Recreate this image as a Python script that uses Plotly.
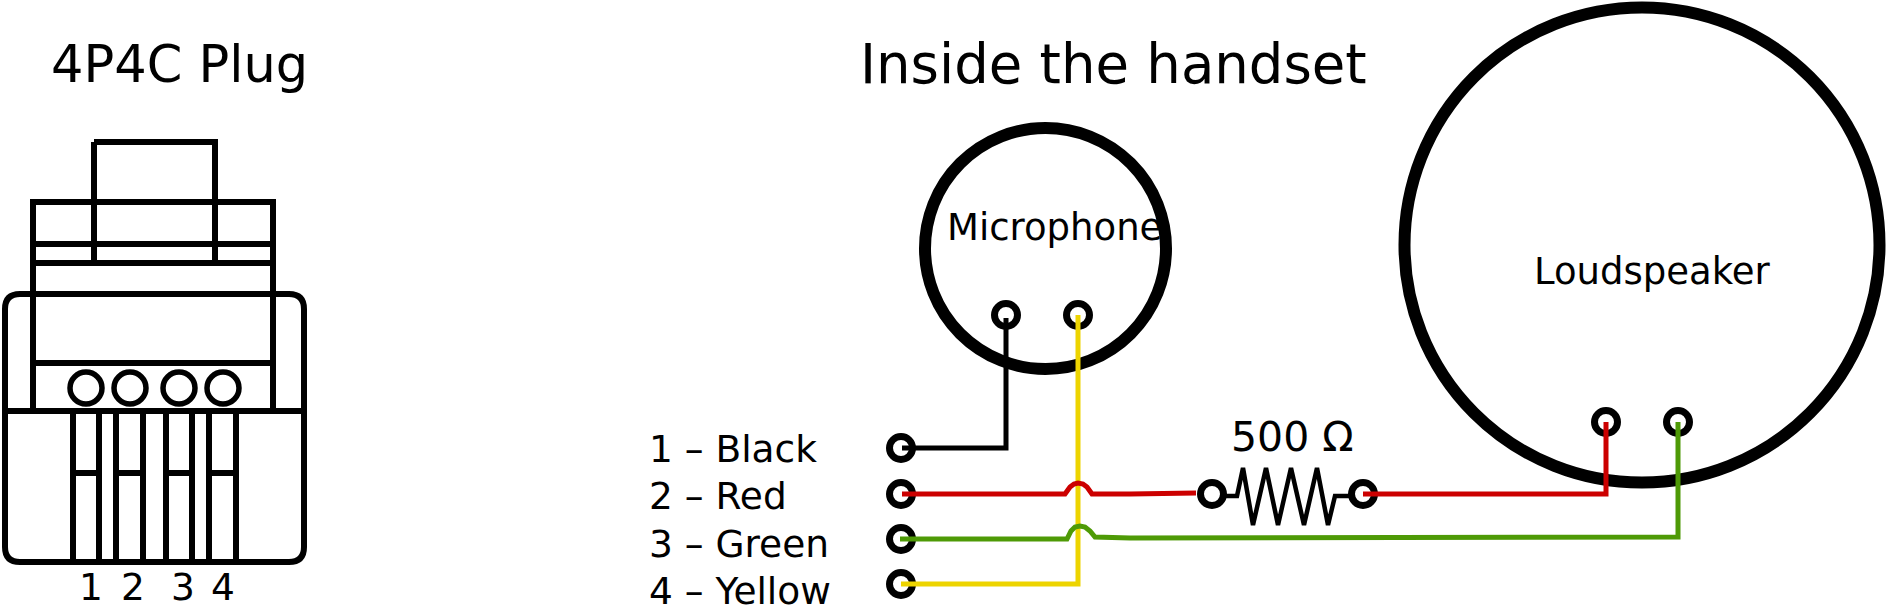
import plotly.graph_objects as go

BLACK = "#000000"
RED = "#cc0000"
YELLOW = "#edd400"
GREEN = "#4e9a06"

# testi
titles = ["4P4C Plug", "Inside the handset"]
titles_x = [179, 1113]
titles_y = [64, 64]
pin_names = ["1 – Black", "2 – Red", "3 – Green", "4 – Yellow"]
pin_names_x = [647, 647, 647, 647]
pin_names_y = [449, 496, 544, 591]
pin_digits = ["1", "2", "3", "4"]
pin_digits_x = [91, 133, 183, 223]
pin_digits_y = [587, 587, 587, 587]
parts = ["Microphone", "Loudspeaker", "500 Ω"]
parts_x = [1054, 1652, 1292]
parts_y = [227, 271, 437]

# spina
tab_x = [94, 215, 215, 94, 94]
tab_y = [142, 142, 263, 263, 142]
body_x = [33, 33, 273, 273]
body_y = [411, 202, 202, 411]
body_lines_y = [244, 263, 363]
body_lines_x = [33, 273]
shell_left = 5
shell_right = 304
shell_top = 294
shell_bottom = 562
shell_mid = 411
shell_corner = 15
holes_x = [86, 130, 179, 223]
holes_y = [388, 388, 388, 388]
contact_left = [73, 116, 166, 209]
contact_right = [99, 143, 192, 236]
contact_top = 411
contact_bottom = 562
contact_bar = 473

# cerchi grandi
mic_x, mic_y = [1045.5], [248.5]
speaker_x, speaker_y = [1642], [245]

# terminali
plug_term_x = [901, 901, 901, 901]
plug_term_y = [448, 494, 539, 584]
other_term_x = [1006, 1078, 1212, 1363, 1606, 1678]
other_term_y = [315, 315, 494, 494, 422, 422]

# fili
black_x = [902, 1006, 1006]
black_y = [448, 448, 318]
yellow_x = [901, 1078, 1078]
yellow_y = [584, 584, 315]
red_a_x = [902, 1065, 1070, 1074, 1078, 1083, 1087, 1092, 1130, 1196]
red_a_y = [494, 494, 487, 484, 483, 484, 487, 494, 494, 493]
red_b_x = [1363, 1606, 1606]
red_b_y = [494, 494, 422]
green_x = [900, 1067, 1071, 1075, 1080, 1085, 1090, 1095, 1130, 1678, 1678]
green_y = [539, 539, 531, 527, 526, 527, 531, 537, 538, 537, 422]

# resistenza
res_x = [1226, 1237, 1243, 1253, 1266, 1278, 1291, 1304, 1317, 1328, 1335, 1349]
res_y = [496, 496, 468, 525, 468, 525, 468, 525, 468, 525, 496, 496]

fig = go.Figure()


def add_line(x, y, color=BLACK, width=6):
    fig.add_trace(go.Scatter(
        x=x, y=y, mode="lines",
        line=dict(color=color, width=width, simplify=False),
        hoverinfo="skip"
    ))


def add_rings(x, y, size, width):
    fig.add_trace(go.Scatter(
        x=x, y=y, mode="markers",
        marker=dict(symbol="circle-open", size=size, color=BLACK, line=dict(color=BLACK, width=width)),
        hoverinfo="skip"
    ))


# spina
add_line(body_x, body_y)
for y in body_lines_y:
    add_line(body_lines_x, [y, y])
add_line(tab_x, tab_y)
add_line([shell_left, shell_right], [shell_mid, shell_mid])
for left, right in zip(contact_left, contact_right):
    add_line([left, left], [contact_top, contact_bottom])
    add_line([right, right], [contact_top, contact_bottom])
    add_line([left, right], [contact_bar, contact_bar])
add_rings(holes_x, holes_y, 32, 5.5)

# cerchi
add_rings(mic_x, mic_y, 241, 12)
add_rings(speaker_x, speaker_y, 475, 12)
add_rings(plug_term_x, plug_term_y, 23, 7)
add_rings(other_term_x, other_term_y, 23, 7)

add_line(res_x, res_y, width=4.5)
add_line(black_x, black_y, width=5)
add_line(yellow_x, yellow_y, YELLOW, 5)
add_line(red_a_x, red_a_y, RED, 5)
add_line(red_b_x, red_b_y, RED, 5)
add_line(green_x, green_y, GREEN, 5)

# guscio arrotondato
c = shell_corner
shell_path = (
    f"M {shell_left + c} {shell_top} L {shell_right - c} {shell_top} "
    f"Q {shell_right} {shell_top} {shell_right} {shell_top + c} "
    f"L {shell_right} {shell_bottom - c} Q {shell_right} {shell_bottom} {shell_right - c} {shell_bottom} "
    f"L {shell_left + c} {shell_bottom} Q {shell_left} {shell_bottom} {shell_left} {shell_bottom - c} "
    f"L {shell_left} {shell_top + c} Q {shell_left} {shell_top} {shell_left + c} {shell_top} Z"
)
fig.add_shape(type="path", path=shell_path, line=dict(color=BLACK, width=6), xref="x", yref="y")


def add_texts(labels, xs, ys, sizes, anchor="center"):
    for label, x, y, size in zip(labels, xs, ys, sizes):
        fig.add_annotation(
            x=x, y=y, text=label, showarrow=False, xanchor=anchor, yanchor="middle",
            font=dict(family="DejaVu Sans", size=size, color=BLACK)
        )


add_texts(titles, titles_x, titles_y, [51, 54.5])
add_texts(pin_names, pin_names_x, pin_names_y, [37.5] * 4, "left")
add_texts(pin_digits, pin_digits_x, pin_digits_y, [37.5] * 4)
add_texts(parts, parts_x, parts_y, [37, 37, 41])

fig.update_xaxes(visible=False, range=[0, 1887], fixedrange=True)
fig.update_yaxes(visible=False, range=[606, 0], fixedrange=True)
fig.update_layout(
    width=1887,
    height=606,
    margin=dict(l=0, r=0, t=0, b=0),
    paper_bgcolor="white",
    plot_bgcolor="white",
    showlegend=False,
    hovermode=False
)

# tolgo il margine del body, altrimenti la figura esce dalla finestra
fig.write_html(
    "out.html",
    config=dict(displayModeBar=False),
    post_script="document.body.style.margin='0';document.body.style.overflow='hidden';"
)
